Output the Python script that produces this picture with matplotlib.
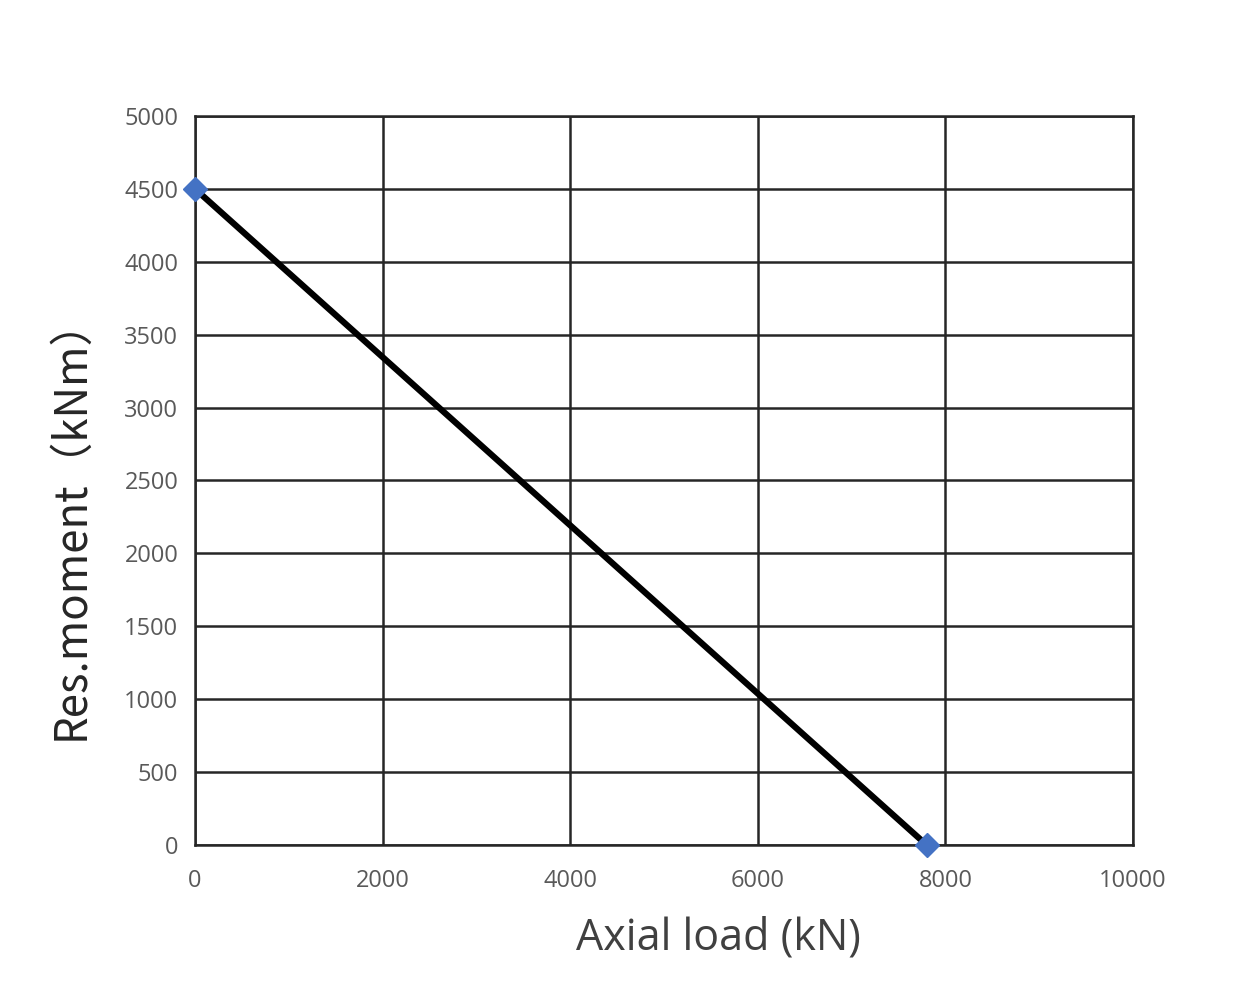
import matplotlib.pyplot as plt

axial_load = [0, 7800]
res_moment = [4500, 0]
x_ticks = [0, 2000, 4000, 6000, 8000, 10000]
y_ticks = [0, 500, 1000, 1500, 2000, 2500, 3000, 3500, 4000, 4500, 5000]

plt.rcParams['font.family'] = ['Open Sans', 'DejaVu Sans']

fig = plt.figure(figsize=(12.6, 9.9), dpi=100)
ax = fig.add_axes([0.1548, 0.1465, 0.7444, 0.7363])

ax.plot(axial_load, res_moment, color='black', linewidth=4.5, zorder=3)
ax.plot(axial_load, res_moment, linestyle='none', marker='D', markersize=12,
        color='#4472C4', zorder=4, clip_on=False)

ax.set_xlim(0, 10000)
ax.set_ylim(0, 5000)
ax.set_xticks(x_ticks)
ax.set_yticks(y_ticks)
ax.grid(True, color='#262626', linewidth=1.8)
ax.set_axisbelow(True)
for s in ax.spines.values():
    s.set_color('#262626')
    s.set_linewidth(1.8)
ax.tick_params(length=0, labelsize=17, labelcolor='#595959')
ax.tick_params(axis='x', pad=17)
ax.tick_params(axis='y', pad=12)

ax.set_xlabel('Axial load (kN)', fontsize=31, color='#404040')
ax.xaxis.set_label_coords(0.5576, -0.098)
ax.set_ylabel('Res.moment（kNm）', fontsize=31.5, color='#262626',
              family=['Noto Sans CJK SC', 'DejaVu Sans'])
ax.yaxis.set_label_coords(-0.108, 0.448)

plt.savefig('out.png', dpi=100)
